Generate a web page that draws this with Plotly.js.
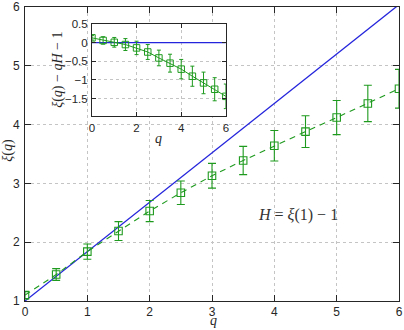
<!DOCTYPE html>
<html>
<head>
<meta charset="utf-8">
<script src="https://cdn.plot.ly/plotly-3.0.1.min.js"></script>
<style>
  html, body { margin: 0; padding: 0; background: #fff; }
  #chart { width: 404px; height: 330px; }
</style>
</head>
<body>
<div id="chart"></div>
<script>
// Moment order q and the scaling exponent xi(q) with its uncertainty
const q = [0, 0.5, 1, 1.5, 2, 2.5, 3, 3.5, 4, 4.5, 5, 5.5, 6];
const xi = [1.10, 1.45, 1.84, 2.19, 2.53, 2.84, 3.13, 3.39, 3.64, 3.88, 4.12, 4.36, 4.61];
const xiErr = [0.06, 0.10, 0.13, 0.16, 0.18, 0.20, 0.21, 0.24, 0.26, 0.27, 0.29, 0.31, 0.33];

// Deviation from the linear (monofractal) prediction, shown in the inset
const deviation = [0.13, 0.06, 0.01, -0.05, -0.14, -0.25, -0.41, -0.55, -0.71, -0.90, -1.08, -1.25, -1.44];

// Axis ranges and tick labels
const qRange = [0, 6];
const mainXTicks = [0, 1, 2, 3, 4, 5, 6];
const mainYTicks = [1, 2, 3, 4, 5, 6];
const insetXTicks = [0, 2, 4, 6];
const insetYTicks = [0.5, 0, -0.5, -1, -1.5];
const insetYLabels = ['0.5', '0', '\u22120.5', '\u22121', '\u22121.5'];

// Hurst exponent from the first moment: H = xi(1) - 1
const H = xi[q.indexOf(1)] - 1;
const linearY = qRange.map(v => 1 + H * v);

const green = '#1e9a1e';
const blue = '#2424dc';
const axisColor = '#262626';
const gridColor = '#c4c4c4';
const serif = 'Liberation Serif, serif';

const traces = [
  {
    x: qRange, y: linearY, xaxis: 'x', yaxis: 'y',
    mode: 'lines', line: { color: blue, width: 1.3 }, hoverinfo: 'skip'
  },
  {
    x: q, y: xi, xaxis: 'x', yaxis: 'y',
    mode: 'lines+markers',
    line: { color: green, width: 1.1, dash: '6px,5px' },
    marker: { symbol: 'square-open', size: 7.5, color: green, line: { width: 1.1 } },
    error_y: { type: 'data', array: xiErr, visible: true, color: green, thickness: 1.1, width: 4 }
  },
  {
    x: qRange, y: [0, 0], xaxis: 'x2', yaxis: 'y2',
    mode: 'lines', line: { color: blue, width: 1.3 }, hoverinfo: 'skip'
  },
  {
    x: q, y: deviation, xaxis: 'x2', yaxis: 'y2',
    mode: 'lines+markers',
    line: { color: green, width: 1 },
    marker: { symbol: 'square-open', size: 6.5, color: green, line: { width: 1 } },
    error_y: { type: 'data', array: xiErr, visible: true, color: green, thickness: 1, width: 2 }
  }
];

const axisCommon = {
  showline: true, linecolor: axisColor, linewidth: 1, mirror: 'ticks',
  ticks: 'inside', tickcolor: axisColor, tickwidth: 1,
  showgrid: true, gridcolor: gridColor, griddash: 'dot', gridwidth: 1,
  zeroline: false, tickmode: 'array', fixedrange: true
};

function label(text, x, y, size, angle, yanchor) {
  return {
    xref: 'paper', yref: 'paper', x: x, y: y,
    xanchor: 'center', yanchor: yanchor || 'middle', showarrow: false,
    text: text, textangle: angle || 0,
    font: { family: serif, size: size, color: axisColor }
  };
}

const layout = {
  width: 404, height: 330,
  margin: { l: 25, r: 5, t: 7, b: 29, pad: 0 },
  paper_bgcolor: '#ffffff', plot_bgcolor: '#ffffff',
  showlegend: false,
  font: { family: 'Liberation Sans, Arial, sans-serif', size: 12, color: axisColor },
  xaxis: Object.assign({}, axisCommon, {
    domain: [0, 1], range: qRange, tickvals: mainXTicks, ticklen: 6,
    ticklabelstandoff: 0
  }),
  yaxis: Object.assign({}, axisCommon, {
    domain: [0, 1], range: [1, 6], tickvals: mainYTicks, ticklen: 6,
    ticklabelstandoff: 2
  }),
  xaxis2: Object.assign({}, axisCommon, {
    domain: [0.179, 0.537], range: qRange, tickvals: insetXTicks, ticklen: 4,
    anchor: 'y2', tickfont: { size: 11.5 }, ticklabelstandoff: 1
  }),
  yaxis2: Object.assign({}, axisCommon, {
    domain: [0.629, 0.942], range: [-1.97, 0.5], tickvals: insetYTicks, ticktext: insetYLabels,
    ticklen: 4, anchor: 'x2', tickfont: { size: 11.5 }, ticklabelstandoff: 1
  }),
  annotations: [
    label('<i>q</i>', 0.503, -0.098, 14, 0, 'bottom'),
    label('<i>\u03be</i>(<i>q</i>)', -0.046, 0.514, 14, -90),
    label('<i>q</i>', 0.356, 0.552, 14),
    label('<i>\u03be</i>(<i>q</i>) \u2212 <i>qH</i> \u2212 1', 0.088, 0.786, 14, -90),
    {
      xref: 'paper', yref: 'paper', x: 0.73, y: 0.293,
      xanchor: 'center', yanchor: 'middle', showarrow: false,
      text: '<i>H</i> = <i>\u03be</i>(1) \u2212 1',
      font: { family: serif, size: 16, color: '#333333' }
    }
  ]
};

Plotly.newPlot('chart', traces, layout, { displayModeBar: false, staticPlot: true });
</script>
</body>
</html>
